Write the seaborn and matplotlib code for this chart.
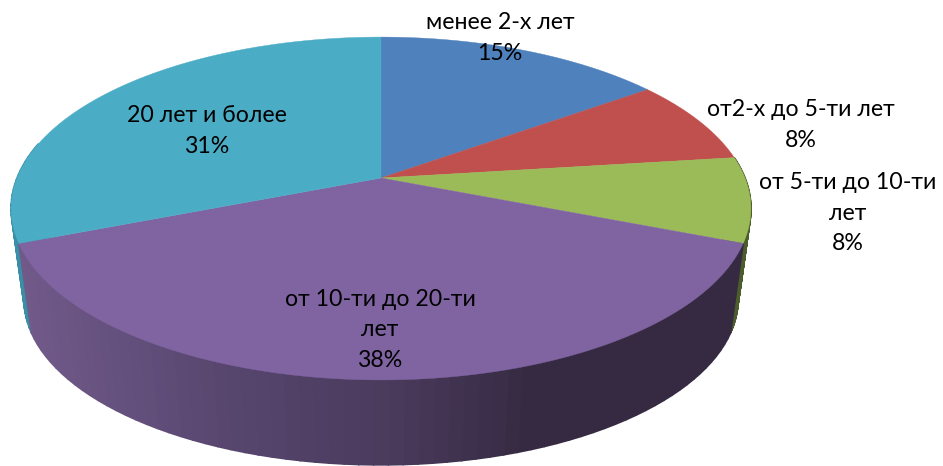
"""Perspective 3D pie: work experience groups."""
import matplotlib; matplotlib.use("Agg")
import numpy as np
import matplotlib.pyplot as plt
import seaborn as sns
from matplotlib.colors import to_rgb

labels = ["менее 2-х лет", "от2-х до 5-ти лет", "от 5-ти до 10-ти\nлет", "от 10-ти до 20-ти\nлет", "20 лет и более"]
shares = [15, 8, 8, 38, 31]
label_x = [500, 801, 848, 380, 207]
label_y = [38, 125, 213, 330, 131]

colors = sns.color_palette(["#4f81bd", "#c0504d", "#9bbb59", "#8064a2", "#4bacc6"])
wall_dark = {2: "#4c5c2b", 4: "#3a8ea6"}
# side shading of the purple slice, left to right
grad_x = [20, 250, 400, 540, 740]
grad_c = ["#715a8a", "#55446c", "#4a3a5c", "#352a42", "#352a42"]

CX, CY = 381, 178      # pie apex on the top face
A, B, K = 364, 166, 0.178   # perspective of the disc
RING_Y, RING_SCALE = 270, 0.965  # the bottom rim

sns.set_theme(style="white")
plt.rcParams["font.family"] = ["Lato", "Open Sans", "DejaVu Sans"]


def top(t):
    u, v = np.sin(t), -np.cos(t)
    w = 1 - K * v
    return CX + A * u / w, CY + B * v / w


def bottom(t):
    u, v = np.sin(t), -np.cos(t)
    w = 1 - K * v
    return CX + A * RING_SCALE * u / w, RING_Y + B * RING_SCALE * v / w


fig, ax = plt.subplots(figsize=(9.43, 4.66), dpi=100)
ax.set_position([0, 0, 1, 1])
ax.set_xlim(0, 943); ax.set_ylim(466, 0); ax.axis("off")

edges = 2 * np.pi * np.cumsum([0] + shares) / sum(shares)

# walls first, then the top face over them
for i in [2, 4, 3]:
    ts = np.linspace(edges[i], edges[i + 1], 70)
    for t0, t1 in zip(ts[:-1], ts[1:]):
        if np.cos(t0) > 0.2 and np.cos(t1) > 0.2:
            continue
        x0, y0 = top(t0); x1, y1 = top(t1)
        x2, y2 = bottom(t1); x3, y3 = bottom(t0)
        if i == 3:
            c = [np.interp(x0, grad_x, [to_rgb(g)[j] for g in grad_c]) for j in range(3)]
        else:
            c = wall_dark[i]
        ax.fill([x0, x1, x2, x3], [y0, y1, y2, y3], color=c, lw=1.2, zorder=1)

for i, c in enumerate(colors):
    ts = np.linspace(edges[i], edges[i + 1], 200)
    x, y = top(ts)
    ax.fill(np.r_[CX, x], np.r_[CY, y], color=c, lw=0.3, zorder=2)

for name, val, x, y in zip(labels, shares, label_x, label_y):
    ax.text(x, y, f"{name}\n{val}%", ha="center", va="center", fontsize=16.7,
            color="black", linespacing=1.56, zorder=3)

fig.savefig("out.png", dpi=100)
